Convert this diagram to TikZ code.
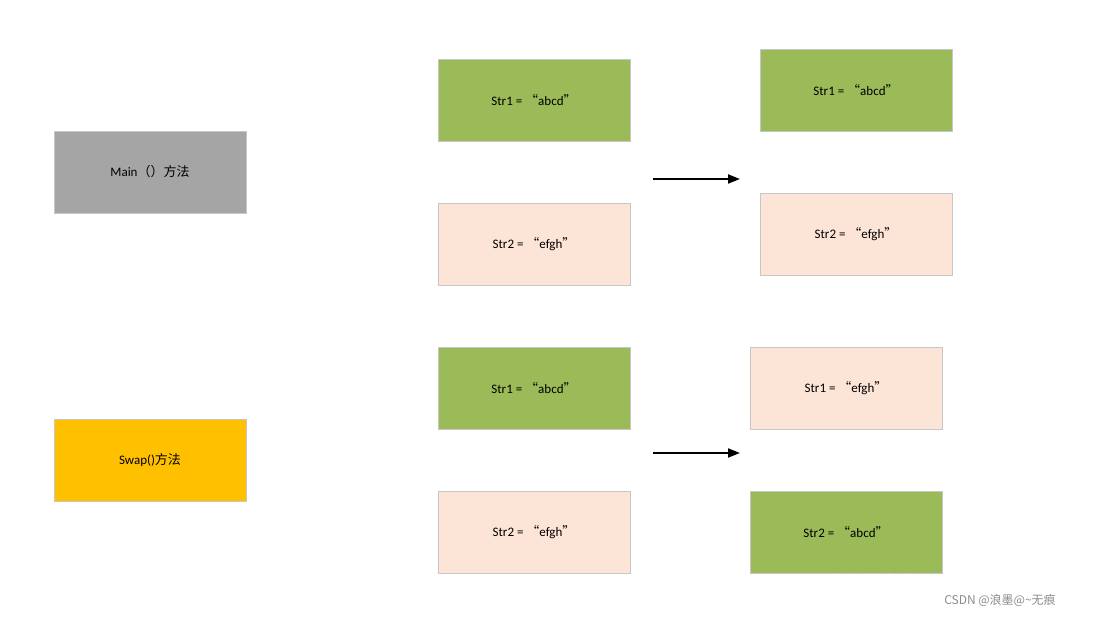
\documentclass[tikz,border=0pt]{standalone}
\usepackage{fontspec}
\setmainfont{Carlito}
\newfontfamily\cjk{Noto Sans CJK SC}
\usetikzlibrary{arrows.meta}
\definecolor{grn}{HTML}{9BBB59}
\definecolor{pnk}{HTML}{FCE4D6}
\definecolor{gry}{HTML}{A5A5A5}
\definecolor{yel}{HTML}{FFC000}
\tikzset{box/.style={draw=black!22,minimum width=192pt,minimum height=82pt,font=\fontsize{13}{15}\selectfont,inner sep=0pt},
 arr/.style={line width=2pt,-{Triangle[length=12pt,width=9pt]}}}
\newcommand{\q}[1]{{\cjk “}#1{\cjk ”}}
\begin{document}
\begin{tikzpicture}[x=1pt,y=-1pt]
\useasboundingbox[fill=white] (0,0) rectangle (1109,617);
\node[box,fill=gry] (main) at (150,172) {Main{\cjk （）方法}};
\node[box,fill=yel] (swap) at (150,460) {Swap(){\cjk 方法}};
\node[box,fill=grn] (a1) at (534,100) {Str1 = \q{abcd}};
\node[box,fill=pnk] (a2) at (534,244) {Str2 = \q{efgh}};
\node[box,fill=grn] (b1) at (856,90) {Str1 = \q{abcd}};
\node[box,fill=pnk] (b2) at (856,234) {Str2 = \q{efgh}};
\node[box,fill=grn] (c1) at (534,388) {Str1 = \q{abcd}};
\node[box,fill=pnk] (c2) at (534,532) {Str2 = \q{efgh}};
\node[box,fill=pnk] (d1) at (846,388) {Str1 = \q{efgh}};
\node[box,fill=grn] (d2) at (846,532) {Str2 = \q{abcd}};
\coordinate (s1) at (653,179); \coordinate (e1) at (740,179);
\coordinate (s2) at (653,453); \coordinate (e2) at (740,453);
\draw[arr] (s1) -- (e1);
\draw[arr] (s2) -- (e2);
\node[font=\cjk\fontsize{17}{19}\selectfont,text=white,draw=none] (wm) at (935,583) {掘金技术社区 @ 随风飘的云};
\node[font=\cjk\fontsize{12}{14}\selectfont,text=black!45] (wm2) at (1000,600) {CSDN @浪墨@\textasciitilde 无痕};
\end{tikzpicture}
\end{document}
